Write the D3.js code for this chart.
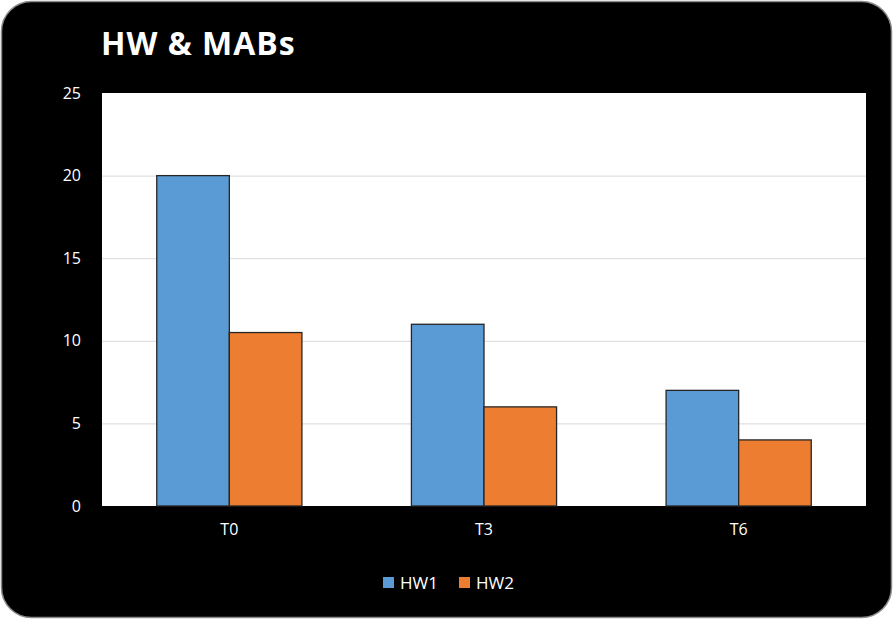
<!DOCTYPE html>
<html><head><meta charset="utf-8">
<script src="https://cdn.jsdelivr.net/npm/d3@7"></script>
<style>body{margin:0;background:#fff;}svg{display:block;}</style>
</head><body>
<svg id="c" width="894" height="620"></svg>
<script>
const categories = ["T0", "T3", "T6"];
const seriesNames = ["HW1", "HW2"];
const hw1 = [20, 11, 7];
const hw2 = [10.5, 6, 4];
const yTicks = [0, 5, 10, 15, 20, 25];
const colors = ["#5b9bd5", "#ed7d31"];
const title = "HW & MABs";

const svg = d3.select("#c");
const W = 894, H = 620;
const font = "'Open Sans', sans-serif";

svg.append("rect").attr("x", 1.5).attr("y", 1.5).attr("width", W - 4).attr("height", H - 4)
  .attr("rx", 30).attr("ry", 30).attr("fill", "#000").attr("stroke", "#8a8a8a").attr("stroke-width", 1.5);

svg.append("text").attr("x", 101).attr("y", 55).attr("fill", "#fff")
  .attr("font-family", font).attr("font-weight", 700).attr("font-size", 32)
  .attr("letter-spacing", 1).text(title);

const pl = 102, pr = 866, pt = 93, pb = 506;
svg.append("rect").attr("x", pl).attr("y", pt).attr("width", pr - pl).attr("height", pb - pt).attr("fill", "#fff");

const y = d3.scaleLinear().domain([0, 25]).range([pb, pt]);
const x0 = d3.scaleBand().domain(categories).range([pl, pr]).paddingInner(0.43).paddingOuter(0.215);
const x1 = d3.scaleBand().domain(seriesNames).range([0, x0.bandwidth()]);

// gridlines
svg.append("g").selectAll("line").data(yTicks.filter(t => t > 0 && t < 25)).join("line")
  .attr("x1", pl).attr("x2", pr).attr("y1", d => y(d) + 0.5).attr("y2", d => y(d) + 0.5)
  .attr("stroke", "#d9d9d9").attr("stroke-width", 1);

// y axis labels
const yAxis = d3.axisLeft(y).tickValues(yTicks).tickSize(0).tickPadding(0);
const gy = svg.append("g").attr("transform", `translate(${pl - 21},0)`).call(yAxis);
gy.select(".domain").remove();
gy.selectAll("text").attr("fill", "#fff").attr("font-family", font).attr("font-size", 16);

// x axis labels
const xAxis = d3.axisBottom(x0).tickSize(0).tickPadding(0);
const gx = svg.append("g").attr("transform", `translate(0,${pb + 18})`).call(xAxis);
gx.select(".domain").remove();
gx.selectAll("text").attr("fill", "#fff").attr("font-family", font).attr("font-size", 16);

const data = categories.map((c, i) => ({ c, vals: [hw1[i], hw2[i]] }));
const groups = svg.append("g").selectAll("g").data(data).join("g")
  .attr("transform", d => `translate(${x0(d.c)},0)`);
groups.selectAll("rect").data(d => d.vals.map((v, j) => ({ s: seriesNames[j], v, j }))).join("rect")
  .attr("x", d => x1(d.s)).attr("width", x1.bandwidth())
  .attr("y", d => y(d.v)).attr("height", d => y(0) - y(d.v))
  .attr("fill", d => colors[d.j]).attr("stroke", "#262626").attr("stroke-width", 1.3);

// legend
const legend = svg.append("g").attr("transform", "translate(383,577)");
const lx = [0, 76];
seriesNames.forEach((s, i) => {
  const g = legend.append("g").attr("transform", `translate(${lx[i]},0)`);
  g.append("rect").attr("width", 11).attr("height", 11).attr("fill", colors[i]);
  g.append("text").attr("x", 17).attr("y", 12).attr("fill", "#fff")
    .attr("font-family", font).attr("font-size", 17).text(s);
});
</script>
</body></html>
